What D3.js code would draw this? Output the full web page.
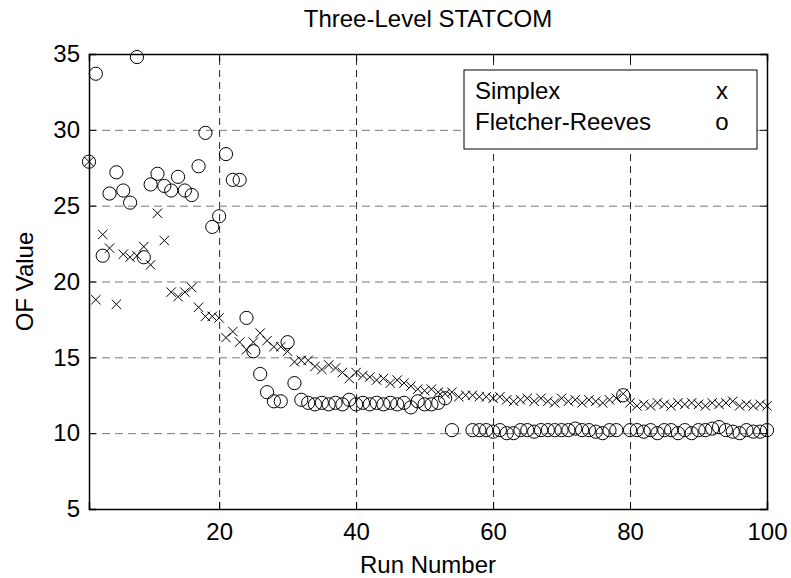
<!DOCTYPE html>
<html>
<head>
<meta charset="utf-8">
<script src="https://cdn.jsdelivr.net/npm/d3@7"></script>
<style>
    body { margin: 0; background: #fff; }
    text { font-family: "Liberation Sans", Arial, sans-serif; }
</style>
</head>
<body>
<div id="chart-area"></div>
<script>
// values, index i -> run number i + 1
let simplex = [
    27.9, 18.8, 23.1, 22.2, 18.5, 21.8, 21.6, 21.7, 22.3, 21.1,
    24.5, 22.7, 19.3, 19.0, 19.3, 19.6, 18.3, 17.7, 17.7, 17.6,
    16.3, 16.7, 16.0, 15.5, 16.0, 16.6, 16.1, 15.7, 15.7, 15.4,
    14.7, 14.8, 14.8, 14.4, 14.2, 14.5, 14.3, 14.0, 13.6, 14.0,
    13.8, 13.7, 13.5, 13.6, 13.3, 13.5, 13.3, 13.1, 12.9, 12.8,
    12.9, 12.7, 12.6, 12.7, 12.4, 12.5, 12.5, 12.4, 12.4, 12.3,
    12.4, 12.2, 12.1, 12.2, 12.3, 12.1, 12.3, 12.1, 12.0, 12.3,
    12.1, 12.2, 12.0, 12.2, 12.1, 12.0, 12.2, 12.3, 12.6, 12.0,
    11.8, 11.9, 11.8, 12.0, 11.9, 11.8, 12.0, 11.9, 12.0, 11.9,
    11.8, 12.0, 11.9, 12.0, 12.1, 11.8, 11.9, 11.8, 11.9, 11.8
]
let fletcherReeves = [
    27.9, 33.7, 21.7, 25.8, 27.2, 26.0, 25.2, 34.8, 21.6, 26.4,
    27.1, 26.3, 26.0, 26.9, 26.0, 25.7, 27.6, 29.8, 23.6, 24.3,
    28.4, 26.7, 26.7, 17.6, 15.4, 13.9, 12.7, 12.1, 12.1, 16.0,
    13.3, 12.2, 12.0, 11.9, 12.0, 11.9, 12.0, 11.9, 12.2, 11.9,
    12.0, 11.9, 12.0, 11.9, 12.0, 11.9, 12.0, 11.7, 12.1, 11.9,
    11.9, 12.0, 12.3, 10.2, null, null, 10.2, 10.2, 10.2, 10.1,
    10.2, 10.0, 10.0, 10.2, 10.2, 10.1, 10.2, 10.2, 10.2, 10.2,
    10.2, 10.3, 10.2, 10.2, 10.1, 10.0, 10.2, 10.2, 12.5, 10.2,
    10.2, 10.1, 10.2, 10.0, 10.2, 10.2, 10.0, 10.2, 10.0, 10.2,
    10.2, 10.3, 10.4, 10.2, 10.1, 10.0, 10.2, 10.1, 10.1, 10.2
]
let xTicks = [20, 40, 60, 80, 100]
let yTicks = [5, 10, 15, 20, 25, 30, 35]
let legendLabels = ["Simplex", "Fletcher-Reeves"]
let legendMarks = ["x", "o"]

let MARGIN = {LEFT: 89, RIGHT: 24, TOP: 54, BOTTOM: 69}
let WIDTH = 791 - MARGIN.LEFT - MARGIN.RIGHT
let HEIGHT = 578 - MARGIN.TOP - MARGIN.BOTTOM
let FONT = 24

let svg = d3.select("#chart-area").append("svg")
    .attr("width", 791)
    .attr("height", 578)

let g = svg.append("g")
    .attr("transform", `translate(${MARGIN.LEFT}, ${MARGIN.TOP})`)

let x = d3.scaleLinear().domain([1, 100]).range([0, WIDTH])
let y = d3.scaleLinear().domain([5, 35]).range([HEIGHT, 0])

// grid
g.append("g")
    .attr("class", "x grid")
    .attr("transform", `translate(0, ${HEIGHT})`)
    .call(d3.axisBottom(x).tickValues(xTicks).tickSize(-HEIGHT).tickFormat(""))
    .call(a => a.select(".domain").remove())
    .selectAll("line")
    .attr("stroke", "#222")
    .attr("stroke-dasharray", "7,5")

g.append("g")
    .attr("class", "y grid")
    .call(d3.axisLeft(y).tickValues(yTicks).tickSize(-WIDTH).tickFormat(""))
    .call(a => a.select(".domain").remove())
    .selectAll("line")
    .attr("stroke", "#777")
    .attr("stroke-dasharray", "8,5")

// axes, ticks point inward like matlab
let xAxisCall = d3.axisBottom(x).tickValues(xTicks).tickSize(-7).tickPadding(14)
let yAxisCall = d3.axisLeft(y).tickValues(yTicks).tickSize(-7).tickPadding(9)

let xAxis = g.append("g")
    .attr("class", "x axis")
    .attr("transform", `translate(0, ${HEIGHT})`)
    .call(xAxisCall)
let yAxis = g.append("g")
    .attr("class", "y axis")
    .call(yAxisCall)
g.append("g")
    .attr("transform", `translate(${WIDTH}, 0)`)
    .call(d3.axisRight(y).tickValues(yTicks).tickSize(-7).tickFormat(""))
g.append("g")
    .call(d3.axisTop(x).tickValues(xTicks).tickSize(-7).tickFormat(""))

g.selectAll(".domain").attr("stroke", "#000").attr("stroke-width", 1.5)
g.selectAll(".axis text")
    .attr("font-size", FONT + "px")
    .attr("font-family", "Liberation Sans, Arial, sans-serif")
    .attr("fill", "#000")

// points
let circles = g.append("g").selectAll("circle")
    .data(fletcherReeves.map((v, i) => ({run: i + 1, value: v})).filter(d => d.value !== null))
    .enter().append("circle")
    .attr("cx", d => x(d.run))
    .attr("cy", d => y(d.value))
    .attr("r", 6.6)
    .attr("fill", "none")
    .attr("stroke", "#000")
    .attr("stroke-width", 1)

let crossSize = 4.7
let crosses = g.append("g").selectAll("path")
    .data(simplex.map((v, i) => ({run: i + 1, value: v})))
    .enter().append("path")
    .attr("d", d => {
        let cx = x(d.run), cy = y(d.value), s = crossSize
        return `M${cx - s},${cy - s}L${cx + s},${cy + s}M${cx - s},${cy + s}L${cx + s},${cy - s}`
    })
    .attr("fill", "none")
    .attr("stroke", "#000")
    .attr("stroke-width", 1)

// legend
let legend = svg.append("g")
    .attr("transform", "translate(464, 70)")
legend.append("rect")
    .attr("width", 293)
    .attr("height", 79)
    .attr("fill", "#fff")
    .attr("stroke", "#000")
    .attr("stroke-width", 1)
legendLabels.forEach((label, i) => {
    legend.append("text")
        .attr("x", 11)
        .attr("y", 29 + i * 31)
        .attr("font-size", FONT + "px")
        .text(label)
    legend.append("text")
        .attr("x", 258)
        .attr("y", 29 + i * 31)
        .attr("text-anchor", "middle")
        .attr("font-size", FONT + "px")
        .text(legendMarks[i])
})

// labels
svg.append("text")
    .attr("x", MARGIN.LEFT + WIDTH / 2)
    .attr("y", 27)
    .attr("text-anchor", "middle")
    .attr("font-size", FONT + "px")
    .text("Three-Level STATCOM")

svg.append("text")
    .attr("x", MARGIN.LEFT + WIDTH / 2)
    .attr("y", 573)
    .attr("text-anchor", "middle")
    .attr("font-size", FONT + "px")
    .text("Run Number")

svg.append("text")
    .attr("transform", `translate(33, ${MARGIN.TOP + HEIGHT / 2}) rotate(-90)`)
    .attr("text-anchor", "middle")
    .attr("font-size", FONT + "px")
    .text("OF Value")
</script>
</body>
</html>
